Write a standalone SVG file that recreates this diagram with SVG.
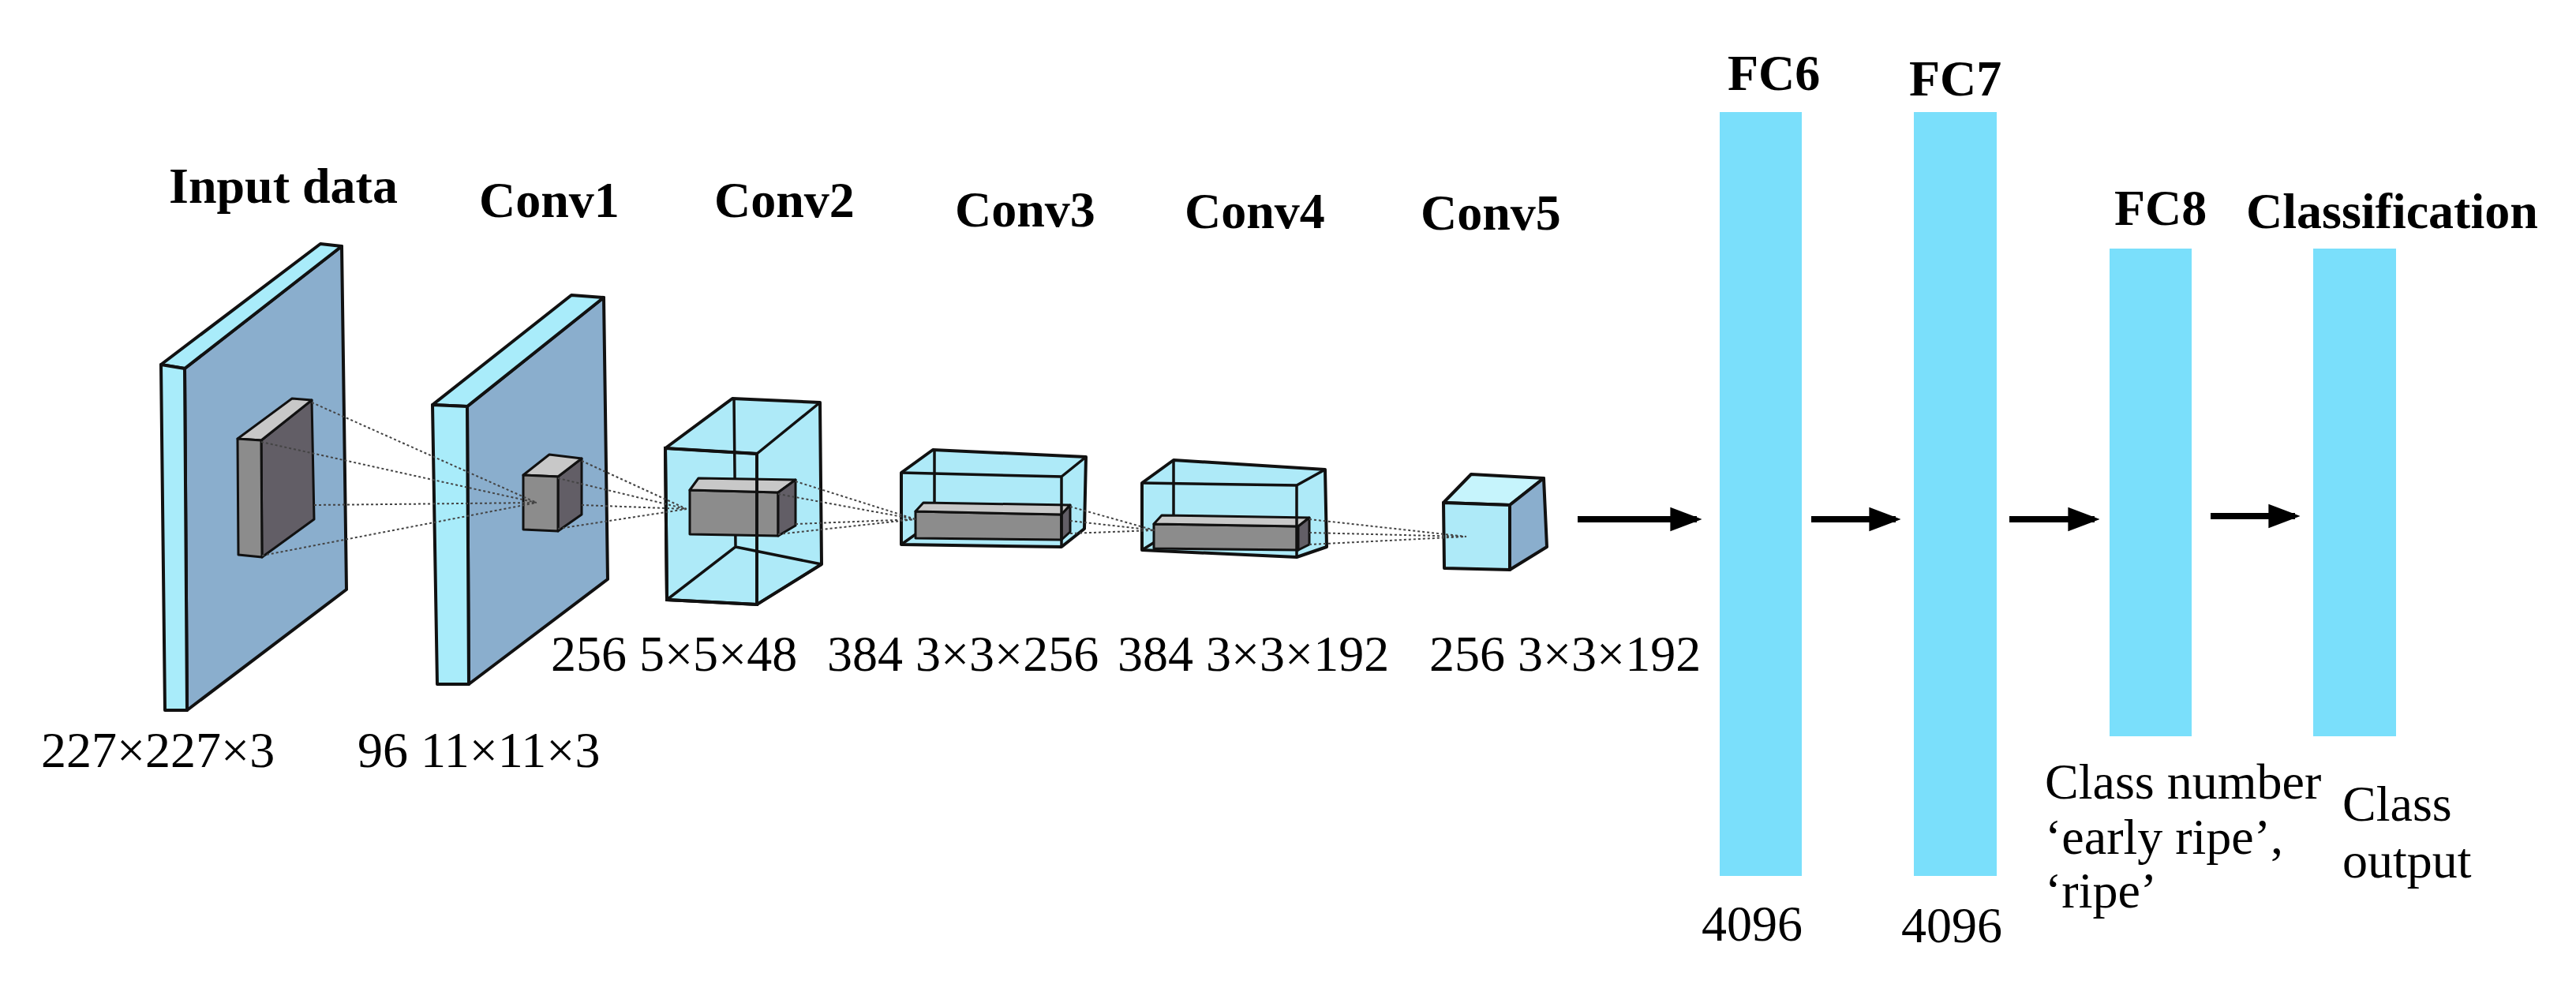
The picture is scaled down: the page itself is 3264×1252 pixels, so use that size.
<svg xmlns="http://www.w3.org/2000/svg" width="3264" height="1252" viewBox="0 0 3264 1252">
<defs>
<style>
.lb{font-family:"Liberation Serif","Times New Roman",serif;font-weight:bold;font-size:64px;fill:#000}
.tx{font-family:"Liberation Serif","Times New Roman",serif;font-size:64px;fill:#000}
.face{fill:#8aaecd;stroke:#111;stroke-width:4;stroke-linejoin:round}
.strip{fill:#a9ecfa;stroke:#111;stroke-width:4;stroke-linejoin:round}
.box{fill:#aeeaf8;stroke:#111;stroke-width:4;stroke-linejoin:round}
.edge{fill:none;stroke:#111;stroke-width:3.5}
.kd{fill:#625e66;stroke:#111;stroke-width:3;stroke-linejoin:round}
.kg{fill:#8c8c8c;stroke:#111;stroke-width:3;stroke-linejoin:round}
.kl{fill:#c8c8c8;stroke:#111;stroke-width:3;stroke-linejoin:round}
.dot{fill:none;stroke:#444;stroke-width:2;stroke-dasharray:3 3}
.bar{fill:#7adffb}
.arr{stroke:#000;stroke-width:8;fill:none;marker-end:url(#ah)}
</style>
<marker id="ah" markerWidth="5" markerHeight="5" refX="4.2" refY="2.5" orient="auto" markerUnits="strokeWidth">
<path d="M0,0.6 L5,2.5 L0,4.4 Z" fill="#000"/>
</marker>
</defs>
<rect width="3264" height="1252" fill="#fff"/>

<g id="input">
<polygon class="face" points="234,467 433,312 439,747 237,900"/>
<polygon class="strip" points="204,462 406,309 433,312 234,467"/>
<polygon class="strip" points="204,462 234,467 237,900 209,900"/>
<polygon class="kd" points="331,558 395,507 398,658 332,706"/>
<polygon class="kl" points="301,556 370,505 395,507 331,558"/>
<polygon class="kg" points="301,556 331,558 332,706 302,703"/>
<text class="lb" x="214" y="257">Input data</text>
<text class="tx" x="52" y="972">227×227×3</text>
</g>

<g id="conv1">
<polygon class="face" points="592,515 765,377 770,734 594,867"/>
<polygon class="strip" points="548,513 724,374 765,377 592,515"/>
<polygon class="strip" points="548,513 592,515 594,867 554,867"/>
<polygon class="kd" points="707,604 737,581 737,652 707,673"/>
<polygon class="kl" points="663,602 696,576 737,581 707,604"/>
<polygon class="kg" points="663,602 707,604 707,673 663,671"/>
<text class="lb" x="607" y="275">Conv1</text>
<text class="tx" x="453" y="972">96 11×11×3</text>
</g>

<g id="conv2">
<polygon class="box" points="843,568 928,505 1039,510 1041,715 959,766 845,760"/>
<path class="edge" d="M930,505 L932,693 L845,760 M932,693 L1041,715"/>
<polygon class="kg" points="874,621 986,624 986,679 874,677"/>
<polygon class="kl" points="874,621 885,606 1008,608 986,624"/>
<polygon class="kd" points="986,624 1008,608 1008,666 986,679"/>
<path class="edge" d="M843,568 L959,575 L959,766 M959,575 L1039,510 M959,766 L1041,715" />
<polygon points="843,568 959,575 959,766 845,760" fill="none" stroke="#111" stroke-width="4"/>
<text class="lb" x="905" y="275">Conv2</text>
<text class="tx" x="698" y="850">256 5×5×48</text>
</g>

<g id="conv3">
<polygon class="box" points="1142,599 1182,570 1376,579 1374,670 1345,693 1142,690"/>
<path class="edge" d="M1184,570 L1184,660 L1142,690"/>
<polygon class="kg" points="1160,648 1345,652 1345,684 1160,682"/>
<polygon class="kl" points="1160,648 1170,637 1356,640 1345,652"/>
<polygon class="kd" points="1345,652 1356,640 1356,674 1345,684"/>
<path class="edge" d="M1142,599 L1345,604 L1345,693 M1345,604 L1376,579"/>
<text class="lb" x="1210" y="287">Conv3</text>
<text class="tx" x="1048" y="850">384 3×3×256</text>
</g>

<g id="conv4">
<polygon class="box" points="1447,612 1487,583 1679,595 1681,693 1643,706 1447,697"/>
<path class="edge" d="M1487,583 L1487,672 L1447,697"/>
<polygon class="kg" points="1462,664 1645,667 1645,697 1462,695"/>
<polygon class="kl" points="1462,664 1472,653 1659,656 1645,667"/>
<polygon class="kd" points="1645,667 1659,656 1659,690 1645,697"/>
<path class="edge" d="M1447,612 L1643,615 L1643,706 M1643,615 L1679,595"/>
<text class="lb" x="1501" y="289">Conv4</text>
<text class="tx" x="1416" y="850">384 3×3×192</text>
</g>

<g id="conv5">
<polygon points="1829,637 1864,601 1956,606 1913,640" fill="#c6f4fc" stroke="#111" stroke-width="4" stroke-linejoin="round"/>
<polygon points="1913,640 1956,606 1960,693 1913,722" fill="#8aaecd" stroke="#111" stroke-width="4" stroke-linejoin="round"/>
<polygon points="1829,637 1913,640 1913,722 1830,720" fill="#aeeaf8" stroke="#111" stroke-width="4" stroke-linejoin="round"/>
<text class="lb" x="1800" y="291">Conv5</text>
<text class="tx" x="1811" y="850">256 3×3×192</text>
</g>

<g id="projections">
<path class="dot" d="M395,510 L680,637 M331,560 L680,637 M398,640 L680,637 M332,704 L680,637"/>
<path class="dot" d="M737,584 L870,645 M707,606 L870,645 M737,640 L870,645 M707,670 L870,645"/>
<path class="dot" d="M1008,610 L1160,658 M986,626 L1160,658 M1008,664 L1160,658 M986,677 L1160,658"/>
<path class="dot" d="M1356,642 L1463,672 M1356,660 L1463,672 M1356,676 L1463,672"/>
<path class="dot" d="M1659,658 L1858,680 M1659,675 L1858,680 M1659,690 L1858,680"/>
</g>

<g id="fc6"><rect class="bar" x="2179" y="142" width="104" height="968"/><text class="lb" x="2189" y="114">FC6</text><text class="tx" x="2156" y="1192">4096</text></g>
<g id="fc7"><rect class="bar" x="2425" y="142" width="105" height="968"/><text class="lb" x="2419" y="121">FC7</text><text class="tx" x="2409" y="1194">4096</text></g>
<g id="fc8"><rect class="bar" x="2673" y="315" width="104" height="618"/><text class="lb" x="2679" y="285">FC8</text>
<text class="tx" x="2591" y="1012">Class number</text><text class="tx" x="2591" y="1082">‘early ripe’,</text><text class="tx" x="2591" y="1150">‘ripe’</text></g>
<g id="classification"><rect class="bar" x="2931" y="315" width="105" height="618"/><text class="lb" x="2846" y="289">Classification</text>
<text class="tx" x="2968" y="1040">Class</text><text class="tx" x="2968" y="1112">output</text></g>

<g id="connectors">
<line class="arr" x1="1999" y1="658" x2="2150" y2="658"/>
<line class="arr" x1="2295" y1="658" x2="2402" y2="658"/>
<line class="arr" x1="2546" y1="658" x2="2654" y2="658"/>
<line class="arr" x1="2801" y1="654" x2="2908" y2="654"/>
</g>
</svg>
